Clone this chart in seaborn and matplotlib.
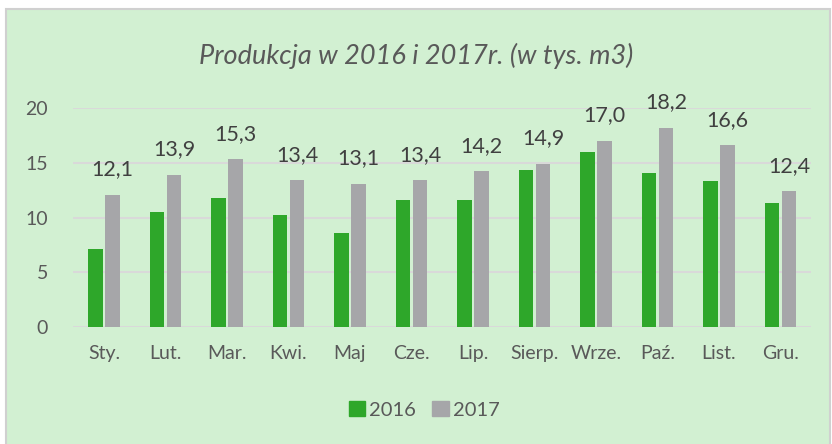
import numpy as np
import pandas as pd
import matplotlib
matplotlib.use("Agg")
import matplotlib.pyplot as plt
import seaborn as sns
from matplotlib.patches import Rectangle

months = ["Sty.", "Lut.", "Mar.", "Kwi.", "Maj", "Cze.", "Lip.", "Sierp.", "Wrze.", "Paź.", "List.", "Gru."]
prod_2016 = [7.1, 10.5, 11.8, 10.2, 8.6, 11.6, 11.6, 14.3, 16.0, 14.1, 13.3, 11.3]
prod_2017 = [12.1, 13.9, 15.3, 13.4, 13.1, 13.4, 14.2, 14.9, 17.0, 18.2, 16.6, 12.4]
years = ["2016", "2017"]

df = pd.DataFrame({
    "month": months * 2,
    "value": prod_2016 + prod_2017,
    "year": [years[0]] * len(months) + [years[1]] * len(months),
})

bg = "#d2f0d2"
text_col = "#595959"
palette = {"2016": "#2ea72a", "2017": "#a6a6a9"}

sns.set_style("white")
plt.rcParams["font.family"] = ["Lato", "DejaVu Sans"]

fig = plt.figure(figsize=(8.32, 4.44), dpi=100)
fig.patch.set_facecolor("white")
fig.patches.append(Rectangle((0.007, -0.01), 0.99, 0.99, transform=fig.transFigure,
                             facecolor=bg, edgecolor="#d0d0d0", linewidth=1.5, zorder=-10))

ax = fig.add_axes([0.088, 0.263, 0.887, 0.494])
ax.patch.set_alpha(0)

sns.barplot(data=df, x="month", y="value", hue="year", palette=palette,
            width=0.56, gap=0.15, saturation=1, linewidth=0, ax=ax, legend=False, zorder=3)

ax.set_ylim(0, 20)
ax.set_yticks([0, 5, 10, 15, 20])
ax.set_xlim(-0.5, len(months) - 0.5)
ax.yaxis.grid(True, color="#d9d9d9", linewidth=1.5, zorder=0)
ax.set_axisbelow(True)
for s in ax.spines.values():
    s.set_visible(False)
ax.tick_params(length=0, labelsize=14, colors=text_col)
ax.tick_params(axis="y", pad=18)
ax.tick_params(axis="x", pad=13)
ax.set_xlabel("")
ax.set_ylabel("")

# value labels on 2017 bars
bars_2017 = ax.containers[1]
for bar, v in zip(bars_2017, prod_2017):
    ax.annotate(f"{v:.1f}".replace(".", ","), (bar.get_x() + bar.get_width() / 2, bar.get_height()),
                xytext=(0, 11), textcoords="offset points", ha="center", va="bottom",
                fontsize=15.5, color="#404040", annotation_clip=False)

fig.text(0.5, 0.875, "Produkcja w 2016 i 2017r. (w tys. m3)", ha="center", va="center",
         fontsize=19.5, style="italic", color=text_col)

handles = [Rectangle((0, 0), 1, 1, color=palette[y]) for y in years]
fig.legend(handles, years, loc="center", bbox_to_anchor=(0.51, 0.077), ncol=2, frameon=False,
           fontsize=14.5, handlelength=0.8, handleheight=0.8, handletextpad=0.2,
           columnspacing=0.8, labelcolor=text_col)

fig.savefig("out.png", dpi=100, facecolor=fig.get_facecolor())
